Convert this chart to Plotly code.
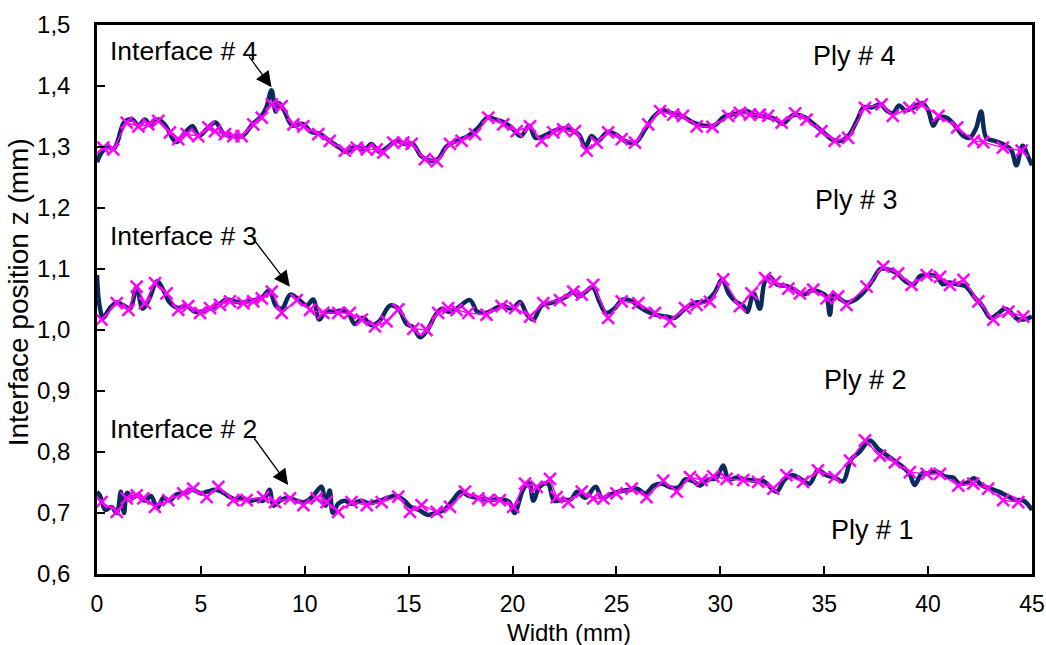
import plotly.graph_objects as go

# ---------------- data ----------------
x_ticks = [0, 5, 10, 15, 20, 25, 30, 35, 40, 45]
y_ticks = [0.6, 0.7, 0.8, 0.9, 1.0, 1.1, 1.2, 1.3, 1.4, 1.5]

# Interface 4 - measured profile (navy)
i4_line_x = [0.0, 0.2, 0.5, 0.8, 1.0, 1.3, 1.7, 2.0, 2.3, 2.6, 2.95, 3.3, 3.8, 4.2, 4.6, 4.9, 5.3, 5.7, 6.1, 6.5,
             7.0, 7.5, 7.9, 8.15, 8.4, 8.6, 8.75, 9.0, 9.4, 9.9, 10.3, 10.7, 11.2, 11.7, 12.0, 12.4, 12.9, 13.2,
             13.6, 14.0, 14.4, 14.8, 15.2, 15.6, 16.0, 16.4, 16.8, 17.3, 17.8, 18.3, 18.8, 19.2, 19.6, 20.0, 20.4,
             20.8, 21.1, 21.5, 21.9, 22.3, 22.8, 23.2, 23.5, 23.8, 24.1, 24.6, 25.0, 25.4, 25.9, 26.4, 26.8, 27.2,
             27.7, 28.2, 28.7, 29.2, 29.7, 30.2, 30.8, 31.2, 31.7, 32.2, 32.7, 33.0, 33.5, 34.0, 34.4, 34.9, 35.4,
             35.8, 36.2, 36.6, 36.9, 37.3, 37.7, 38.0, 38.3, 38.6, 38.9, 39.3, 39.7, 40.0, 40.25, 40.5, 40.9, 41.3,
             41.7, 42.0, 42.3, 42.55, 42.8, 43.2, 43.6, 44.0, 44.25, 44.55, 44.8, 45.0]
i4_line_y = [1.275, 1.29, 1.30, 1.297, 1.31, 1.34, 1.345, 1.335, 1.345, 1.335, 1.345, 1.335, 1.308, 1.322, 1.334,
             1.318, 1.33, 1.34, 1.322, 1.318, 1.318, 1.338, 1.35, 1.365, 1.393, 1.358, 1.372, 1.36, 1.335, 1.338,
             1.325, 1.322, 1.31, 1.298, 1.292, 1.30, 1.296, 1.305, 1.292, 1.30, 1.31, 1.305, 1.305, 1.285, 1.278,
             1.28, 1.30, 1.31, 1.317, 1.33, 1.348, 1.345, 1.34, 1.33, 1.318, 1.335, 1.315, 1.318, 1.325, 1.33,
             1.328, 1.32, 1.30, 1.318, 1.31, 1.325, 1.32, 1.31, 1.307, 1.33, 1.35, 1.36, 1.355, 1.35, 1.34, 1.335,
             1.335, 1.35, 1.355, 1.36, 1.352, 1.35, 1.345, 1.338, 1.352, 1.35, 1.34, 1.326, 1.312, 1.31, 1.32,
             1.345, 1.365, 1.365, 1.37, 1.36, 1.355, 1.368, 1.36, 1.365, 1.372, 1.36, 1.335, 1.348, 1.348, 1.335,
             1.318, 1.315, 1.33, 1.358, 1.315, 1.31, 1.305, 1.295, 1.27, 1.302, 1.285, 1.27]
# Interface 4 - fitted points (magenta)
i4_mark_x = [0.30, 0.78, 1.43, 1.99, 2.47, 2.95, 3.51, 3.91, 4.32, 4.87, 5.36, 5.68, 6.16, 6.56, 6.96, 7.52, 7.93,
             8.41, 8.89, 9.45, 9.93, 10.65, 11.20, 11.93, 12.50, 12.98, 13.46, 13.78, 14.26, 14.74, 15.14, 15.78,
             16.35, 16.99, 17.55, 18.19, 18.83, 19.55, 20.20, 20.84, 21.40, 21.96, 22.44, 23.00, 23.57, 24.05,
             24.60, 25.25, 25.89, 26.53, 27.10, 27.73, 28.20, 28.86, 29.62, 30.38, 30.94, 31.42, 31.90, 32.30,
             32.95, 33.60, 34.15, 34.87, 35.50, 36.15, 36.96, 37.76, 38.30, 39.10, 39.70, 40.50, 41.40, 42.20,
             42.65, 43.60, 44.50]
i4_mark_y = [1.299, 1.296, 1.340, 1.334, 1.337, 1.343, 1.324, 1.313, 1.321, 1.318, 1.332, 1.326, 1.321, 1.318,
             1.318, 1.337, 1.348, 1.370, 1.367, 1.337, 1.334, 1.321, 1.310, 1.294, 1.299, 1.296, 1.296, 1.291,
             1.307, 1.307, 1.305, 1.280, 1.277, 1.305, 1.310, 1.321, 1.348, 1.337, 1.326, 1.334, 1.310, 1.324,
             1.329, 1.326, 1.294, 1.307, 1.324, 1.313, 1.307, 1.337, 1.359, 1.353, 1.351, 1.334, 1.333, 1.351,
             1.356, 1.353, 1.353, 1.351, 1.340, 1.355, 1.345, 1.326, 1.310, 1.315, 1.364, 1.370, 1.351, 1.364,
             1.370, 1.351, 1.332, 1.310, 1.308, 1.299, 1.294]

# Interface 3
i3_line_x = [0.0, 0.12, 0.3, 0.6, 0.95, 1.3, 1.6, 1.9, 2.2, 2.5, 2.9, 3.2, 3.5, 3.9, 4.3, 4.7, 5.0, 5.4, 5.8, 6.2,
             6.6, 7.0, 7.4, 7.9, 8.3, 8.6, 8.9, 9.3, 9.7, 10.1, 10.4, 10.7, 11.0, 11.4, 11.8, 12.1, 12.4, 12.8,
             13.2, 13.6, 14.1, 14.5, 14.9, 15.2, 15.55, 15.9, 16.3, 16.6, 16.9, 17.3, 17.95, 18.3, 18.7, 19.1,
             19.5, 20.0, 20.36, 20.7, 21.0, 21.4, 21.9, 22.3, 22.6, 22.9, 23.2, 23.5, 23.85, 24.2, 24.5, 24.9,
             25.3, 25.7, 26.1, 26.5, 26.9, 27.4, 27.8, 28.3, 28.8, 29.3, 29.7, 30.1, 30.4, 30.8, 31.1, 31.3, 31.6,
             31.9, 32.15, 32.4, 32.7, 33.2, 33.6, 34.0, 34.4, 34.8, 35.1, 35.27, 35.45, 35.8, 36.1, 36.5, 36.9,
             37.3, 37.7, 38.0, 38.5, 38.9, 39.3, 39.6, 40.0, 40.4, 40.7, 41.0, 41.4, 41.8, 42.2, 42.6, 43.0, 43.3,
             43.7, 44.0, 44.3, 44.7, 45.0]
i3_line_y = [1.09, 1.04, 1.02, 1.035, 1.045, 1.04, 1.035, 1.07, 1.035, 1.05, 1.08, 1.065, 1.045, 1.036, 1.04, 1.03,
             1.03, 1.035, 1.04, 1.05, 1.047, 1.045, 1.048, 1.052, 1.065, 1.04, 1.035, 1.058, 1.05, 1.04, 1.05,
             1.017, 1.03, 1.03, 1.032, 1.028, 1.01, 1.02, 1.008, 1.015, 1.04, 1.035, 1.01, 1.005, 0.988, 1.0,
             1.025, 1.035, 1.03, 1.035, 1.049, 1.03, 1.028, 1.034, 1.04, 1.035, 1.046, 1.025, 1.017, 1.04, 1.045,
             1.05, 1.055, 1.062, 1.055, 1.062, 1.07, 1.045, 1.028, 1.035, 1.05, 1.048, 1.038, 1.03, 1.025, 1.022,
             1.02, 1.035, 1.045, 1.047, 1.06, 1.083, 1.06, 1.045, 1.04, 1.03, 1.06, 1.035, 1.08, 1.087, 1.075,
             1.072, 1.065, 1.058, 1.065, 1.062, 1.055, 1.025, 1.058, 1.05, 1.045, 1.05, 1.062, 1.08, 1.1, 1.1,
             1.093, 1.08, 1.075, 1.088, 1.09, 1.088, 1.075, 1.078, 1.075, 1.072, 1.055, 1.04, 1.02, 1.025, 1.035,
             1.028, 1.018, 1.018, 1.022]
i3_mark_x = [0.22, 0.95, 1.51, 1.91, 2.31, 2.79, 3.35, 3.91, 4.39, 4.96, 5.44, 5.92, 6.40, 7.04, 7.52, 7.93, 8.41,
             8.89, 9.61, 10.25, 10.89, 11.61, 12.17, 12.74, 13.38, 13.94, 14.50, 15.22, 15.86, 16.42, 16.90,
             17.30, 17.87, 18.75, 19.47, 20.12, 20.84, 21.48, 22.28, 22.92, 23.33, 23.88, 24.60, 25.25, 26.05,
             26.85, 27.57, 28.30, 28.86, 29.50, 30.14, 30.94, 31.50, 32.15, 32.63, 33.27, 33.83, 34.47, 35.11,
             35.67, 36.07, 37.04, 37.84, 38.56, 39.20, 39.93, 40.57, 41.05, 41.70, 42.42, 43.14, 43.86, 44.58]
i3_mark_y = [1.017, 1.044, 1.033, 1.071, 1.044, 1.077, 1.060, 1.033, 1.039, 1.028, 1.036, 1.041, 1.047, 1.044,
             1.047, 1.052, 1.063, 1.028, 1.049, 1.033, 1.028, 1.028, 1.028, 1.017, 1.006, 1.014, 1.034, 1.002,
             1.000, 1.028, 1.036, 1.033, 1.028, 1.025, 1.039, 1.036, 1.022, 1.044, 1.049, 1.063, 1.058, 1.074,
             1.020, 1.047, 1.044, 1.028, 1.014, 1.036, 1.041, 1.046, 1.083, 1.039, 1.060, 1.085, 1.079, 1.068,
             1.060, 1.066, 1.052, 1.055, 1.041, 1.071, 1.104, 1.093, 1.074, 1.090, 1.087, 1.074, 1.082, 1.047,
             1.017, 1.030, 1.022]

# Interface 2
i2_line_x = [0.0, 0.15, 0.4, 0.7, 0.95, 1.15, 1.3, 1.45, 1.7, 2.0, 2.3, 2.6, 2.9, 3.2, 3.5, 3.8, 4.2, 4.6, 5.0,
             5.3, 5.7, 6.0, 6.3, 6.7, 7.0, 7.3, 7.7, 8.0, 8.3, 8.5, 8.8, 9.2, 9.6, 10.0, 10.4, 10.8, 11.0, 11.2,
             11.35, 11.6, 11.9, 12.3, 12.7, 13.1, 13.6, 14.0, 14.4, 14.8, 15.1, 15.5, 15.9, 16.3, 16.7, 17.1,
             17.5, 17.9, 18.3, 18.7, 19.2, 19.6, 19.85, 20.1, 20.5, 20.8, 21.0, 21.3, 21.7, 22.0, 22.4, 22.8,
             23.1, 23.5, 24.0, 24.3, 24.7, 25.1, 25.6, 26.0, 26.4, 26.8, 27.2, 27.6, 28.0, 28.3, 28.7, 29.0, 29.4,
             29.8, 30.14, 30.4, 30.8, 31.2, 31.7, 32.1, 32.7, 33.1, 33.5, 33.9, 34.3, 34.7, 35.1, 35.5, 35.9,
             36.3, 36.7, 37.2, 37.6, 38.0, 38.4, 38.8, 39.1, 39.35, 39.7, 40.0, 40.4, 40.8, 41.2, 41.5, 41.9,
             42.2, 42.6, 43.0, 43.4, 43.8, 44.2, 44.6, 45.0]
i2_line_y = [0.735, 0.728, 0.705, 0.71, 0.70, 0.735, 0.70, 0.733, 0.725, 0.73, 0.72, 0.728, 0.708, 0.725, 0.72,
             0.73, 0.733, 0.738, 0.732, 0.735, 0.738, 0.735, 0.728, 0.722, 0.725, 0.72, 0.722, 0.72, 0.738, 0.712,
             0.72, 0.725, 0.72, 0.718, 0.728, 0.743, 0.712, 0.737, 0.70, 0.715, 0.72, 0.715, 0.72, 0.716, 0.72,
             0.725, 0.728, 0.72, 0.71, 0.705, 0.697, 0.70, 0.705, 0.72, 0.735, 0.728, 0.725, 0.722, 0.722, 0.722,
             0.718, 0.70, 0.738, 0.75, 0.72, 0.743, 0.748, 0.72, 0.722, 0.722, 0.735, 0.725, 0.743, 0.725, 0.73,
             0.735, 0.738, 0.74, 0.732, 0.745, 0.748, 0.742, 0.742, 0.755, 0.752, 0.745, 0.755, 0.757, 0.778,
             0.755, 0.758, 0.755, 0.753, 0.752, 0.735, 0.755, 0.762, 0.755, 0.748, 0.77, 0.762, 0.758, 0.752,
             0.788, 0.80, 0.819, 0.805, 0.795, 0.785, 0.775, 0.765, 0.746, 0.765, 0.765, 0.768, 0.76, 0.758,
             0.748, 0.75, 0.757, 0.745, 0.74, 0.735, 0.728, 0.722, 0.72, 0.705]
i2_mark_x = [0.22, 0.95, 1.43, 1.91, 2.23, 2.79, 3.43, 4.15, 4.63, 5.28, 5.84, 6.56, 7.20, 8.00, 8.57, 9.29, 9.93,
             10.57, 11.05, 11.61, 12.25, 12.98, 13.70, 14.50, 15.06, 15.62, 16.35, 16.99, 17.71, 18.35, 18.83,
             19.39, 20.03, 20.60, 21.16, 21.80, 22.12, 22.68, 23.33, 23.88, 24.37, 25.00, 25.73, 26.45, 27.25,
             27.90, 28.54, 29.10, 29.66, 30.30, 31.10, 31.82, 32.55, 33.18, 33.98, 34.70, 35.50, 36.24, 36.96,
             37.68, 38.40, 39.12, 39.93, 40.57, 41.45, 42.17, 42.89, 43.61, 44.34]
i2_mark_y = [0.718, 0.702, 0.724, 0.729, 0.724, 0.710, 0.721, 0.732, 0.740, 0.726, 0.743, 0.721, 0.721, 0.726,
             0.718, 0.724, 0.713, 0.724, 0.718, 0.702, 0.718, 0.713, 0.718, 0.727, 0.702, 0.713, 0.702, 0.710,
             0.735, 0.724, 0.721, 0.721, 0.710, 0.748, 0.743, 0.756, 0.726, 0.718, 0.735, 0.724, 0.724, 0.732,
             0.740, 0.726, 0.753, 0.735, 0.759, 0.754, 0.760, 0.756, 0.754, 0.751, 0.740, 0.762, 0.751, 0.770,
             0.759, 0.786, 0.819, 0.794, 0.783, 0.767, 0.764, 0.764, 0.745, 0.748, 0.740, 0.721, 0.718]

# labels
x_title = "Width (mm)"
y_title = "Interface position z (mm)"
interface_labels = ["Interface # 4", "Interface # 3", "Interface # 2"]
interface_label_y = [1.457, 1.154, 0.837]
arrow_tail = [(7.26, 1.451), (7.44, 1.153), (7.51, 0.825)]
arrow_tip = [(8.40, 1.398), (9.28, 1.071), (9.20, 0.746)]
ply_labels = ["Ply # 4", "Ply # 3", "Ply # 2", "Ply # 1"]
ply_x = [36.48, 36.57, 37.0, 37.3]
ply_y = [1.449, 1.213, 0.918, 0.672]

NAVY = "#0b2b5e"
MAGENTA = "#ff00ff"
FONT = "Liberation Sans, Arial, sans-serif"
NARROW = "Liberation Sans Narrow, Arial Narrow, Liberation Sans, Arial, sans-serif"

fig = go.Figure()
for lx, ly, mx, my in [(i4_line_x, i4_line_y, i4_mark_x, i4_mark_y),
                       (i3_line_x, i3_line_y, i3_mark_x, i3_mark_y),
                       (i2_line_x, i2_line_y, i2_mark_x, i2_mark_y)]:
    fig.add_trace(go.Scatter(x=lx, y=ly, mode="lines",
                             line=dict(color=NAVY, width=4.5, shape="spline", smoothing=1.0),
                             hoverinfo="skip"))
    fig.add_trace(go.Scatter(x=mx, y=my, mode="lines+markers",
                             line=dict(color=MAGENTA, width=1.5),
                             marker=dict(symbol="x-thin", size=12, color=MAGENTA,
                                         line=dict(color=MAGENTA, width=2.5))))

annotations = []
for txt, yy in zip(interface_labels, interface_label_y):
    annotations.append(dict(x=0.52, y=yy, xref="x", yref="y", text=txt, showarrow=False,
                            xanchor="left", yanchor="middle",
                            font=dict(family=FONT, size=26.5, color="black")))
for (tx, ty), (hx, hy) in zip(arrow_tail, arrow_tip):
    annotations.append(dict(x=hx, y=hy, ax=tx, ay=ty, xref="x", yref="y", axref="x", ayref="y",
                            text="", showarrow=True, arrowhead=2, arrowsize=2.4, arrowwidth=1.3,
                            arrowcolor="black", standoff=0, startstandoff=0))
for txt, xx, yy in zip(ply_labels, ply_x, ply_y):
    annotations.append(dict(x=xx, y=yy, xref="x", yref="y", text=txt, showarrow=False,
                            xanchor="center", yanchor="middle",
                            font=dict(family=FONT, size=27, color="black")))
# axis titles
annotations.append(dict(x=0.5053, y=-0.1057, xref="paper", yref="paper", text=x_title, showarrow=False,
                        xanchor="center", yanchor="middle", font=dict(family=FONT, size=24, color="black")))
annotations.append(dict(x=-0.0738, y=0.513, xref="paper", yref="paper", text=y_title, showarrow=False,
                        textangle=-90, xanchor="center", yanchor="middle", xshift=-10,
                        font=dict(family=FONT, size=28, color="black")))

axis_common = dict(showgrid=False, zeroline=False, showline=True, linecolor="black", linewidth=2.5,
                   mirror=True, ticks="inside", ticklen=8, tickwidth=2, tickcolor="black",
                   automargin=False)

fig.update_layout(
    width=1046, height=645,
    margin=dict(l=97, r=14, t=25, b=71),
    paper_bgcolor="white", plot_bgcolor="white",
    showlegend=False,
    separators=", ",
    annotations=annotations,
    xaxis=dict(range=[0, 45], tickvals=x_ticks, ticklabelstandoff=8,
               tickfont=dict(family=NARROW, size=23, color="black"),
               **axis_common),
    yaxis=dict(range=[0.6, 1.5], tickvals=y_ticks, tickformat=".1f", ticklabelstandoff=19,
               tickfont=dict(family=FONT, size=24, color="black"),
               **axis_common),
)

fig.write_html("out.html", config={"displayModeBar": False},
               post_script="document.body.style.margin='0';document.body.style.overflow='hidden';")
